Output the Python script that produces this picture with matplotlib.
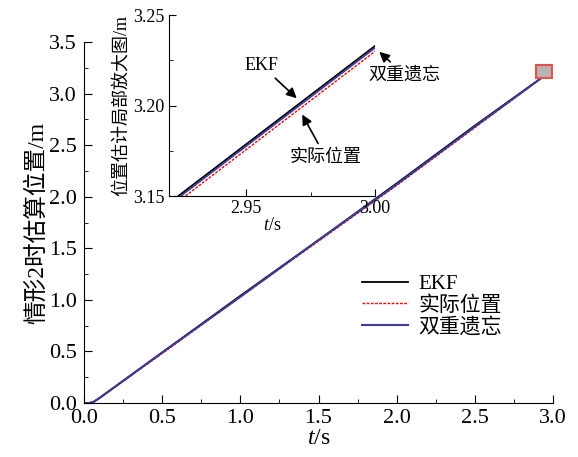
import matplotlib
matplotlib.use('Agg')
import matplotlib.pyplot as plt
from matplotlib.patches import Rectangle
from matplotlib.ticker import MultipleLocator

plt.rcParams['font.family'] = ['Liberation Serif', 'Noto Sans CJK SC']
plt.rcParams['mathtext.fontset'] = 'custom'
plt.rcParams['mathtext.it'] = 'Liberation Serif:italic'
plt.rcParams['mathtext.rm'] = 'Liberation Serif'

# 读图得到的数据
t = [0.0, 0.03, 0.06, 0.1, 0.5, 1.0, 1.5, 2.0, 2.5, 2.92, 3.0]
ekf = [0.0, 0.0, 0.01, 0.05, 0.49, 1.04, 1.58, 2.13, 2.69, 3.146, 3.233]
real = [0.0, 0.0, 0.01, 0.05, 0.48, 1.03, 1.57, 2.11, 2.67, 3.143, 3.230]
dual = [0.0, 0.0, 0.01, 0.05, 0.49, 1.03, 1.58, 2.12, 2.68, 3.145, 3.232]

labels = ['EKF', '实际位置', '双重遗忘']
blue = '#3c3c98'

fig = plt.figure(figsize=(5.78, 4.57), dpi=100)
ax = fig.add_axes([0.1453, 0.118, 0.8115, 0.790])

l1, = ax.plot(t, ekf, color='k', lw=1.3)
l2, = ax.plot(t, real, color='red', lw=1.0, ls=(0, (2, 1)))
l3, = ax.plot(t, dual, color=blue, lw=1.5)

ax.set_xlim(0, 3.0)
ax.set_ylim(0, 3.5)
ax.xaxis.set_major_locator(MultipleLocator(0.5))
ax.xaxis.set_minor_locator(MultipleLocator(0.25))
ax.yaxis.set_major_locator(MultipleLocator(0.5))
ax.yaxis.set_minor_locator(MultipleLocator(0.25))
ax.xaxis.set_major_formatter(matplotlib.ticker.FormatStrFormatter('%.1f'))
ax.yaxis.set_major_formatter(matplotlib.ticker.FormatStrFormatter('%.1f'))
ax.tick_params(which='both', direction='in', labelsize=16)
ax.tick_params(axis='x', pad=4)
ax.tick_params(axis='y', pad=5)
ax.tick_params(which='major', length=6)
ax.tick_params(which='minor', length=3)
for s in ['top', 'right']:
    ax.spines[s].set_visible(False)
ax.set_xlabel('$t$/s', fontsize=17, labelpad=0)
ax.set_ylabel('情形2时估算位置/m', fontsize=17, labelpad=1)

# 放大区域框
ax.add_patch(Rectangle((2.89, 3.15), 0.105, 0.13, facecolor='#bbb3b3',
                       edgecolor='#e8504a', lw=1.5, zorder=5))

fig.legend([l1, l2, l3], labels, loc='upper left', bbox_to_anchor=(0.612, 0.418),
           frameon=False, fontsize=15, handlelength=2.2, handletextpad=0.5,
           labelspacing=0.1, borderaxespad=0)

# 局部放大图
ins = fig.add_axes([0.292, 0.571, 0.357, 0.396])
ins.plot(t, ekf, color='k', lw=1.3)
ins.plot(t, real, color='red', lw=1.0, ls=(0, (2, 1)))
ins.plot(t, dual, color=blue, lw=1.3)
ins.set_xlim(2.92, 3.0)
ins.set_ylim(3.15, 3.25)
ins.xaxis.set_major_locator(MultipleLocator(0.05))
ins.xaxis.set_minor_locator(MultipleLocator(0.025))
ins.yaxis.set_major_locator(MultipleLocator(0.05))
ins.yaxis.set_minor_locator(MultipleLocator(0.025))
ins.xaxis.set_major_formatter(matplotlib.ticker.FormatStrFormatter('%.2f'))
ins.yaxis.set_major_formatter(matplotlib.ticker.FormatStrFormatter('%.2f'))
ins.tick_params(which='both', direction='in', labelsize=13, pad=3)
ins.tick_params(which='major', length=5)
ins.tick_params(which='minor', length=3)
for s in ['top', 'right']:
    ins.spines[s].set_visible(False)
ins.patch.set_alpha(0)
ins.set_xlabel('$t$/s', fontsize=13, labelpad=0)
ins.set_ylabel('位置估计局部放大图/m', fontsize=13, labelpad=2)

arrow = dict(arrowstyle='-|>', color='k', lw=1.2, mutation_scale=15)
ins.annotate('EKF', xy=(2.9704, 3.2030), xytext=(2.9558, 3.2224),
             fontsize=13, ha='center', va='center', arrowprops=arrow)
ins.annotate('双重遗忘', xy=(3.0008, 3.2307), xytext=(3.0115, 3.2169),
             fontsize=13, ha='center', va='center', arrowprops=arrow,
             annotation_clip=False)
ins.annotate('实际位置', xy=(2.9712, 3.1964), xytext=(2.9808, 3.1715),
             fontsize=13, ha='center', va='center', arrowprops=arrow)

fig.savefig('out.png', dpi=100)
